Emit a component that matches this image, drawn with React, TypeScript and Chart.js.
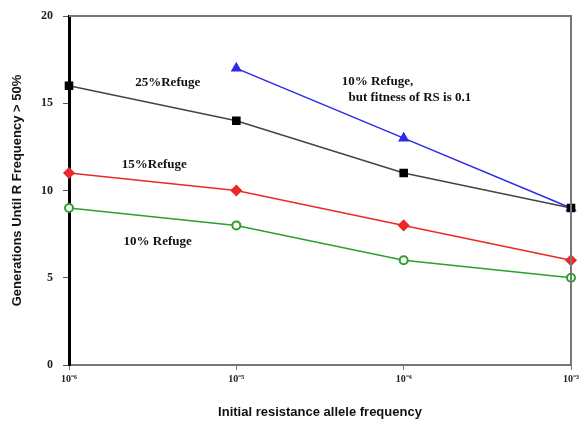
import React, { useEffect, useRef } from "react";
import { Chart, registerables } from "chart.js";

Chart.register(...registerables);

const categories = ["10⁻⁶", "10⁻⁵", "10⁻⁴", "10⁻³"];
const refuge25 = [16, 14, 11, 9];
const refuge10Fit = [null, 17, 13, 9];
const refuge15 = [11, 10, 8, 6];
const refuge10 = [9, 8, 6, 5];
const yTicks = [0, 5, 10, 15, 20];

const annotationPlugin = {
  id: "annots",
  afterDatasetsDraw(chart: any) {
    const { ctx, chartArea, scales } = chart;
    const x = scales.x;
    const y = scales.y;
    ctx.save();
    ctx.strokeStyle = "#777";
    ctx.lineWidth = 2;
    ctx.beginPath();
    ctx.moveTo(chartArea.left, chartArea.top);
    ctx.lineTo(chartArea.right, chartArea.top);
    ctx.lineTo(chartArea.right, chartArea.bottom);
    ctx.stroke();
    ctx.fillStyle = "#111";
    ctx.font = "bold 13px 'Liberation Serif', 'DejaVu Serif', serif";
    ctx.textBaseline = "middle";
    ctx.textAlign = "center";
    ctx.fillText("25%Refuge", x.getPixelForValue(0.59), y.getPixelForValue(16.2));
    ctx.fillText("15%Refuge", x.getPixelForValue(0.51), y.getPixelForValue(11.5));
    ctx.fillText("10% Refuge", x.getPixelForValue(0.53), y.getPixelForValue(7.05));
    ctx.textAlign = "left";
    ctx.fillText("10% Refuge,", x.getPixelForValue(1.63), y.getPixelForValue(16.25));
    ctx.fillText("but fitness of RS is 0.1", x.getPixelForValue(1.67), y.getPixelForValue(15.3));
    ctx.restore();
  },
};

export default function App() {
  const ref = useRef<HTMLCanvasElement>(null);
  useEffect(() => {
    const chart = new Chart(ref.current!, {
      type: "line",
      data: {
        labels: categories,
        datasets: [
          {
            label: "25% Refuge",
            data: refuge25,
            borderColor: "#444",
            backgroundColor: "#000",
            pointBackgroundColor: "#000",
            pointBorderColor: "#000",
            pointStyle: "rect",
            pointRadius: 5,
            borderWidth: 1.5,
          },
          {
            label: "10% Refuge, fitness 0.1",
            data: refuge10Fit,
            borderColor: "#2a2ae8",
            pointBackgroundColor: "#2a2ae8",
            pointBorderColor: "#2a2ae8",
            pointStyle: "triangle",
            pointRadius: 5,
            borderWidth: 1.5,
          },
          {
            label: "15% Refuge",
            data: refuge15,
            borderColor: "#e82a2a",
            pointBackgroundColor: "#e82a2a",
            pointBorderColor: "#e82a2a",
            pointStyle: "rectRot",
            pointRadius: 5,
            borderWidth: 1.5,
          },
          {
            label: "10% Refuge",
            data: refuge10,
            borderColor: "#2ca02c",
            pointBackgroundColor: "#fff",
            pointBorderColor: "#2ca02c",
            pointStyle: "circle",
            pointRadius: 4,
            pointBorderWidth: 2,
            borderWidth: 1.5,
          },
        ],
      },
      options: {
        animation: false,
        responsive: false,
        maintainAspectRatio: false,
        clip: false as any,
        layout: { padding: { left: 0, right: 8, top: 16, bottom: 4 } },
        plugins: { legend: { display: false }, tooltip: { enabled: false } },
        scales: {
          x: {
            type: "category",
            offset: false,
            grid: { display: true, drawOnChartArea: false, drawTicks: true, tickLength: 5, color: "#777" },
            border: { display: true, color: "#777", width: 2 },
            ticks: {
              color: "#222",
              font: { family: "'Liberation Serif', serif", size: 10, weight: "bold" },
              padding: 3,
              maxRotation: 0,
            },
            title: {
              display: true,
              text: "Initial resistance allele frequency",
              color: "#111",
              font: { family: "'Liberation Sans', Arial, sans-serif", size: 13, weight: "bold" },
              padding: { top: 12, bottom: 0 },
            },
            afterFit: (s: any) => {
              s.height = 55;
              s.paddingLeft = 0;
              s.paddingRight = 0;
            },
          },
          y: {
            min: 0,
            max: 20,
            afterBuildTicks: (s: any) => {
              s.ticks = yTicks.map((v) => ({ value: v }));
            },
            grid: { display: true, drawOnChartArea: false, drawTicks: true, tickLength: 6, color: "#555" },
            border: { display: true, color: "#000", width: 3 },
            ticks: {
              color: "#222",
              font: { family: "'Liberation Serif', serif", size: 12, weight: "bold" },
              padding: 10,
            },
            title: {
              display: true,
              text: "Generations Until R Frequency > 50%",
              color: "#111",
              font: { family: "'Liberation Sans', Arial, sans-serif", size: 13, weight: "bold" },
              padding: { top: 10, bottom: 10 },
            },
            afterFit: (s: any) => {
              s.width = 69;
              s.paddingTop = 0;
              s.paddingBottom = 0;
            },
          },
        },
      },
      plugins: [annotationPlugin],
    });
    return () => chart.destroy();
  }, []);
  return (
    <div style={{ position: "fixed", left: 0, top: 0, width: 579, height: 424, background: "#fff" }}>
      <canvas ref={ref} width={579} height={424} style={{ width: 579, height: 424 }} />
    </div>
  );
}
